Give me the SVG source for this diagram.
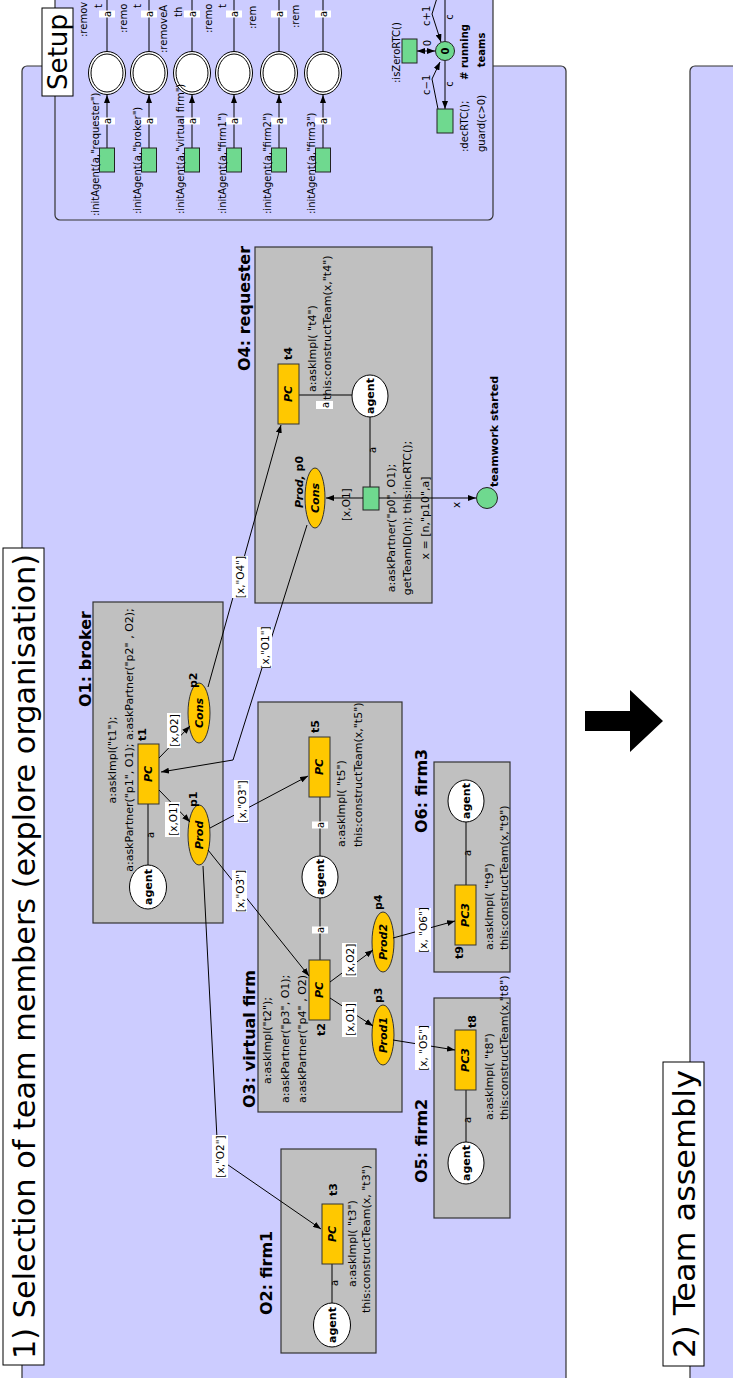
<svg xmlns="http://www.w3.org/2000/svg" width="733" height="1378" viewBox="0 0 733 1378">
<defs>
<marker id="ah" viewBox="0 0 8 6" refX="8" refY="3" markerWidth="8" markerHeight="6" markerUnits="userSpaceOnUse" orient="auto-start-reverse"><path d="M0,0 L8,3 L0,6 z" fill="#000"/></marker>
</defs>
<style>
text{font-family:"DejaVu Sans","Liberation Sans",sans-serif;fill:#000}
.panel{fill:#ccccff;stroke:#333;stroke-width:1.2}
.box{fill:#c0c0c0;stroke:#333;stroke-width:1.2}
.tb{fill:#fff;stroke:#000;stroke-width:1}
.pc{fill:#ffc800;stroke:#333;stroke-width:1}
.gt{fill:#6fd98f;stroke:#222;stroke-width:1}
.pl{fill:#fff;stroke:#000;stroke-width:1}
.ln{stroke:#000;stroke-width:1;fill:none}
.ar{stroke:#000;stroke-width:1;fill:none;marker-end:url(#ah)}
.lb{fill:#fff}
.ins{font-size:11px}
.s{font-size:10px}
.ttl{font-size:16px;font-weight:bold}
.bi{font-size:11px;font-weight:bold;font-style:italic}
.b{font-size:11px;font-weight:bold}
.ab{font-size:10.5px}
.a{font-size:10px}
.c{text-anchor:middle;dominant-baseline:central}
.m{text-anchor:middle}
.big{font-family:"DejaVu Sans Condensed","DejaVu Sans",sans-serif}
</style>

<g id="panels">
<rect class="panel" x="22" y="66" width="544" height="1330" rx="5"/>
<rect class="panel" x="690" y="66" width="60" height="1330" rx="5"/>
<rect class="panel" x="55" y="-20" width="438" height="240" rx="5"/>
<rect class="tb" x="42" y="8" width="31" height="88"/>
<text class="c big" font-size="26" transform="translate(58,52) rotate(-90)" textLength="76" lengthAdjust="spacingAndGlyphs">Setup</text>
<rect class="tb" x="3" y="548" width="41" height="817"/>
<text class="c big" font-size="30" transform="translate(24,956.5) rotate(-90)" textLength="805" lengthAdjust="spacingAndGlyphs">1) Selection of team members (explore organisation)</text>
<rect class="tb" x="663" y="1062" width="41" height="304"/>
<text class="c big" font-size="30" transform="translate(684,1214) rotate(-90)" textLength="288" lengthAdjust="spacingAndGlyphs">2) Team assembly</text>
<polygon points="585,711 630,711 630,690 663,721 630,752 630,731 585,731" fill="#000"/>
</g>

<g id="setup">
<g id="col1">
<line class="ln" x1="107" y1="52" x2="107" y2="-2"/>
<rect class="lb" x="99" y="10.5" width="16" height="7"/><text class="a c" transform="translate(107,14) rotate(-90)">a</text>
<line class="ar" x1="107" y1="148" x2="107" y2="95"/>
<rect class="lb" x="99" y="117.5" width="16" height="7"/><text class="a c" transform="translate(107,121) rotate(-90)">a</text>
<ellipse class="pl" cx="107" cy="73" rx="18.5" ry="21.5"/><ellipse class="pl" cx="107" cy="73" rx="16" ry="19"/>
<rect class="gt" x="99.5" y="148" width="15" height="24"/>
<text class="s" transform="translate(87,37) rotate(-90)">:remov</text>
<text class="s" transform="translate(102,8) rotate(-90)">t</text>
<text class="s" transform="translate(99,216) rotate(-90)">:initAgent(a,"requester")</text>
</g>
<g id="col2">
<line class="ln" x1="149" y1="52" x2="149" y2="-2"/>
<rect class="lb" x="141" y="10.5" width="16" height="7"/><text class="a c" transform="translate(149,14) rotate(-90)">a</text>
<line class="ar" x1="149" y1="148" x2="149" y2="95"/>
<rect class="lb" x="141" y="117.5" width="16" height="7"/><text class="a c" transform="translate(149,121) rotate(-90)">a</text>
<ellipse class="pl" cx="149" cy="73" rx="18.5" ry="21.5"/><ellipse class="pl" cx="149" cy="73" rx="16" ry="19"/>
<rect class="gt" x="141.5" y="148" width="15" height="24"/>
<text class="s" transform="translate(127,33) rotate(-90)">:remo</text>
<text class="s" transform="translate(141,8) rotate(-90)">t</text>
<text class="s" transform="translate(141,214) rotate(-90)">:initAgent(a,"broker")</text>
</g>
<g id="col3">
<line class="ln" x1="192" y1="52" x2="192" y2="-2"/>
<rect class="lb" x="184" y="10.5" width="16" height="7"/><text class="a c" transform="translate(192,14) rotate(-90)">a</text>
<line class="ar" x1="192" y1="148" x2="192" y2="95"/>
<rect class="lb" x="184" y="117.5" width="16" height="7"/><text class="a c" transform="translate(192,121) rotate(-90)">a</text>
<ellipse class="pl" cx="192" cy="73" rx="18.5" ry="21.5"/><ellipse class="pl" cx="192" cy="73" rx="16" ry="19"/>
<rect class="gt" x="184.5" y="148" width="15" height="24"/>
<text class="s" transform="translate(167,53) rotate(-90)">:removeA</text>
<text class="s" transform="translate(182,17) rotate(-90)">th</text>
<text class="s" transform="translate(184,214) rotate(-90)">:initAgent(a,"virtual firm")</text>
</g>
<g id="col4">
<line class="ln" x1="234" y1="52" x2="234" y2="-2"/>
<rect class="lb" x="226" y="10.5" width="16" height="7"/><text class="a c" transform="translate(234,14) rotate(-90)">a</text>
<line class="ar" x1="234" y1="148" x2="234" y2="95"/>
<rect class="lb" x="226" y="117.5" width="16" height="7"/><text class="a c" transform="translate(234,121) rotate(-90)">a</text>
<ellipse class="pl" cx="234" cy="73" rx="18.5" ry="21.5"/><ellipse class="pl" cx="234" cy="73" rx="16" ry="19"/>
<rect class="gt" x="226.5" y="148" width="15" height="24"/>
<text class="s" transform="translate(212,33) rotate(-90)">:remo</text>
<text class="s" transform="translate(226,8) rotate(-90)">t</text>
<text class="s" transform="translate(226,214) rotate(-90)">:initAgent(a,"firm1")</text>
</g>
<g id="col5">
<line class="ln" x1="279" y1="52" x2="279" y2="-2"/>
<rect class="lb" x="271" y="10.5" width="16" height="7"/><text class="a c" transform="translate(279,14) rotate(-90)">a</text>
<line class="ar" x1="279" y1="148" x2="279" y2="95"/>
<rect class="lb" x="271" y="117.5" width="16" height="7"/><text class="a c" transform="translate(279,121) rotate(-90)">a</text>
<ellipse class="pl" cx="279" cy="73" rx="18.5" ry="21.5"/><ellipse class="pl" cx="279" cy="73" rx="16" ry="19"/>
<rect class="gt" x="271.5" y="148" width="15" height="24"/>
<text class="s" transform="translate(256,29) rotate(-90)">:rem</text>
<text class="s" transform="translate(271,214) rotate(-90)">:initAgent(a,"firm2")</text>
</g>
<g id="col6">
<line class="ln" x1="323" y1="52" x2="323" y2="-2"/>
<rect class="lb" x="315" y="10.5" width="16" height="7"/><text class="a c" transform="translate(323,14) rotate(-90)">a</text>
<line class="ar" x1="323" y1="148" x2="323" y2="95"/>
<rect class="lb" x="315" y="117.5" width="16" height="7"/><text class="a c" transform="translate(323,121) rotate(-90)">a</text>
<ellipse class="pl" cx="323" cy="73" rx="18.5" ry="21.5"/><ellipse class="pl" cx="323" cy="73" rx="16" ry="19"/>
<rect class="gt" x="315.5" y="148" width="15" height="24"/>
<text class="s" transform="translate(299,28) rotate(-90)">:rem</text>
<text class="s" transform="translate(315,214) rotate(-90)">:initAgent(a,"firm3")</text>
</g>
<g id="rtc">
<line class="ln" x1="445" y1="41" x2="445" y2="-2"/>
<text class="s c" transform="translate(449,17) rotate(-90)">c</text>
<polyline class="ar" points="437,-2 432,14 441,42"/>
<text class="s" transform="translate(430,26) rotate(-90)">c+1</text>
<line class="ln" x1="417" y1="51" x2="435" y2="51" marker-start="url(#ah)" marker-end="url(#ah)"/>
<text class="s c" transform="translate(427,43) rotate(-90)">0</text>
<rect class="gt" x="402" y="39" width="15" height="24"/>
<text class="s" font-size="11.5" transform="translate(400,83) rotate(-90)">:isZeroRTC()</text>
<line class="ar" x1="445" y1="61" x2="445" y2="109"/>
<text class="s c" transform="translate(449,84) rotate(-90)">c</text>
<polyline class="ar" points="438,109 432,79 440,62"/>
<text class="s" transform="translate(430,95) rotate(-90)">c−1</text>
<circle class="gt" cx="445" cy="51" r="9.5"/>
<text class="s c" font-weight="bold" transform="translate(445,51) rotate(-90)">0</text>
<rect class="gt" x="437" y="109" width="16" height="24"/>
<text class="s" transform="translate(468,152) rotate(-90)">:decRTC();</text>
<text class="s" transform="translate(485,152) rotate(-90)">guard(c&gt;0)</text>
<text class="s m" font-weight="bold" transform="translate(468,52) rotate(-90)"># running</text>
<text class="s m" font-weight="bold" transform="translate(485,50) rotate(-90)">teams</text>
</g>
</g>

<g id="O4">
<rect class="box" x="255" y="247" width="177" height="356"/>
<text class="ttl" transform="translate(250,371) rotate(-90)">O4: requester</text>
<line class="ln" x1="299" y1="395" x2="352" y2="395"/>
<line class="ln" x1="370" y1="417" x2="370" y2="487"/>
<text class="a c" transform="translate(372,450) rotate(-90)">a</text>
<rect class="pc" x="278" y="364" width="21" height="60"/>
<text class="bi c" transform="translate(288.5,394) rotate(-90)">PC</text>
<text class="b" transform="translate(292,360) rotate(-90)">t4</text>
<text class="ins" transform="translate(316,392) rotate(-90)">a:askImpl( "t4")</text>
<text class="ins" transform="translate(331,400) rotate(-90)">this:constructTeam(x,"t4")</text>
<rect class="lb" x="316" y="401" width="17" height="8"/><text class="a c" transform="translate(325,405) rotate(-90)">a</text>
<ellipse class="pl" cx="370" cy="396" rx="18" ry="21"/>
<text class="b c" font-size="10" transform="translate(370,396) rotate(-90)">agent</text>
<rect class="gt" x="363" y="487" width="16" height="23"/>
<ellipse class="pc" cx="315" cy="498" rx="10" ry="30"/>
<text class="bi c" font-size="10" transform="translate(315,498) rotate(-90)">Cons</text>
<text class="b" transform="translate(303,508) rotate(-90)"><tspan font-style="italic">Prod,</tspan> p0</text>
<text class="ab" transform="translate(350,521) rotate(-90)">[x,O1]</text>
<text class="ins m" transform="translate(395,528) rotate(-90)">a:askPartner("p0", O1);</text>
<text class="ins m" transform="translate(411,518) rotate(-90)">getTeamID(n); this:incRTC();</text>
<text class="ins m" transform="translate(429,518) rotate(-90)">x = [n,"p10",a]</text>
<text class="ab c" transform="translate(456,505) rotate(-90)">x</text>
<circle class="gt" cx="487" cy="498" r="10.5"/>
<text class="b" transform="translate(498,487) rotate(-90)">teamwork started</text>
</g>

<g id="O1">
<rect class="box" x="93" y="602" width="130" height="321"/>
<text class="ttl" transform="translate(91,707) rotate(-90)">O1: broker</text>
<line class="ln" x1="148" y1="804" x2="148" y2="865"/>
<text class="a c" transform="translate(150,835) rotate(-90)">a</text>
<rect class="pc" x="138" y="744" width="21" height="60"/>
<text class="bi c" transform="translate(148.5,774) rotate(-90)">PC</text>
<text class="b" transform="translate(146,741) rotate(-90)">t1</text>
<ellipse class="pc" cx="199" cy="713" rx="11" ry="30"/>
<text class="bi c" font-size="10" transform="translate(199,713) rotate(-90)">Cons</text>
<text class="b" transform="translate(197,688) rotate(-90)">p2</text>
<ellipse class="pc" cx="199" cy="835" rx="11" ry="30"/>
<text class="bi c" font-size="10" transform="translate(199,835) rotate(-90)">Prod</text>
<text class="b" transform="translate(197,807) rotate(-90)">p1</text>
<ellipse class="pl" cx="148" cy="887" rx="18.5" ry="22"/>
<text class="b c" font-size="10" transform="translate(148,887) rotate(-90)">agent</text>
<text class="ins m" transform="translate(116,760) rotate(-90)">a:askImpl("t1");</text>
<text class="ins m" transform="translate(133,740) rotate(-90)">a:askPartner("p1", O1); a:askPartner("p2" , O2);</text>
</g>

<g id="O3">
<rect class="box" x="258" y="702" width="144" height="410"/>
<text class="ttl" transform="translate(255,1108) rotate(-90)">O3: virtual firm</text>
<line class="ln" x1="320" y1="797" x2="320" y2="856"/>
<rect class="lb" x="312" y="821.5" width="16" height="7"/><text class="a c" transform="translate(320,825) rotate(-90)">a</text>
<line class="ln" x1="320" y1="898" x2="320" y2="960"/>
<rect class="lb" x="312" y="926.5" width="16" height="7"/><text class="a c" transform="translate(320,930) rotate(-90)">a</text>
<rect class="pc" x="309" y="737" width="21" height="60"/>
<text class="bi c" transform="translate(319.5,767) rotate(-90)">PC</text>
<text class="b" transform="translate(319,733) rotate(-90)">t5</text>
<text class="ins" transform="translate(345,847) rotate(-90)">a:askImpl( "t5")</text>
<text class="ins" transform="translate(362,847) rotate(-90)">this:constructTeam(x,"t5")</text>
<ellipse class="pl" cx="320" cy="877" rx="18" ry="21"/>
<text class="b c" font-size="10" transform="translate(320,877) rotate(-90)">agent</text>
<rect class="pc" x="309" y="960" width="21" height="60"/>
<text class="bi c" transform="translate(319.5,990) rotate(-90)">PC</text>
<text class="b" transform="translate(325,1036) rotate(-90)">t2</text>
<text class="ins" transform="translate(271,1084) rotate(-90)">a:askImpl("t2");</text>
<text class="ins" transform="translate(289,1103) rotate(-90)">a:askPartner("p3", O1);</text>
<text class="ins" transform="translate(306,1103) rotate(-90)">a:askPartner("p4" , O2)</text>
<ellipse class="pc" cx="383" cy="1035" rx="11" ry="30"/>
<text class="bi c" font-size="10" transform="translate(383,1035) rotate(-90)">Prod1</text>
<text class="b" transform="translate(382,1003) rotate(-90)">p3</text>
<ellipse class="pc" cx="383" cy="942" rx="11" ry="30"/>
<text class="bi c" font-size="10" transform="translate(383,942) rotate(-90)">Prod2</text>
<text class="b" transform="translate(382,910) rotate(-90)">p4</text>
</g>

<g id="O6">
<rect class="box" x="434" y="762" width="76" height="210"/>
<text class="ttl" transform="translate(427,833) rotate(-90)">O6: firm3</text>
<line class="ln" x1="466" y1="822" x2="466" y2="885"/>
<text class="a c" transform="translate(467,853) rotate(-90)">a</text>
<ellipse class="pl" cx="466" cy="801" rx="18" ry="21"/>
<text class="b c" font-size="10" transform="translate(466,801) rotate(-90)">agent</text>
<rect class="pc" x="455" y="885" width="21" height="60"/>
<text class="bi c" transform="translate(465.5,915) rotate(-90)">PC3</text>
<text class="b" transform="translate(463,959) rotate(-90)">t9</text>
<text class="ins" transform="translate(493,950) rotate(-90)">a:askImpl( "t9")</text>
<text class="ins" transform="translate(508,950) rotate(-90)">this:constructTeam(x,"t9")</text>
</g>

<g id="O5">
<rect class="box" x="434" y="998" width="76" height="220"/>
<text class="ttl" transform="translate(427,1183) rotate(-90)">O5: firm2</text>
<line class="ln" x1="466" y1="1090" x2="466" y2="1142"/>
<text class="a c" transform="translate(467,1120) rotate(-90)">a</text>
<rect class="pc" x="455" y="1030" width="21" height="60"/>
<text class="bi c" transform="translate(465.5,1060) rotate(-90)">PC3</text>
<text class="b" transform="translate(476,1028) rotate(-90)">t8</text>
<ellipse class="pl" cx="466" cy="1163" rx="18" ry="21"/>
<text class="b c" font-size="10" transform="translate(466,1163) rotate(-90)">agent</text>
<text class="ins" transform="translate(493,1120) rotate(-90)">a:askImpl( "t8")</text>
<text class="ins" transform="translate(508,1120) rotate(-90)">this:constructTeam(x,"t8")</text>
</g>

<g id="O2">
<rect class="box" x="281" y="1149" width="95" height="204"/>
<text class="ttl" transform="translate(272,1315) rotate(-90)">O2: firm1</text>
<line class="ln" x1="332" y1="1264" x2="332" y2="1303"/>
<text class="a c" transform="translate(334,1283) rotate(-90)">a</text>
<rect class="pc" x="322" y="1204" width="21" height="60"/>
<text class="bi c" transform="translate(332.5,1234) rotate(-90)">PC</text>
<text class="b" transform="translate(337,1196) rotate(-90)">t3</text>
<ellipse class="pl" cx="332" cy="1325" rx="18.5" ry="22"/>
<text class="b c" font-size="10" transform="translate(332,1325) rotate(-90)">agent</text>
<text class="ins" transform="translate(356,1287) rotate(-90)">a:askImpl( "t3")</text>
<text class="ins" transform="translate(370,1313) rotate(-90)">this:constructTeam(x, "t3")</text>
</g>

<g id="connectors">
<line class="ar" x1="363" y1="498" x2="326" y2="498"/>
<line class="ar" x1="379" y1="498" x2="476" y2="498"/>
<line class="ar" x1="208" y1="687" x2="281" y2="425"/>
<rect class="lb" x="232" y="556" width="16" height="42"/><text class="ab c" transform="translate(240,577) rotate(-90)">[x,"O4"]</text>
<polyline class="ar" points="307,525 233,760 161,772"/>
<rect class="lb" x="257" y="627" width="15" height="41"/><text class="ab c" transform="translate(264.5,647.5) rotate(-90)">[x,"O1"]</text>
<line class="ar" x1="159" y1="758" x2="190" y2="726"/>
<rect class="lb" x="167" y="713" width="14" height="35"/><text class="ab c" transform="translate(174,730.5) rotate(-90)">[x,O2]</text>
<line class="ar" x1="159" y1="790" x2="190" y2="822"/>
<rect class="lb" x="165" y="802" width="15" height="35"/><text class="ab c" transform="translate(172.5,819.5) rotate(-90)">[x,O1]</text>
<line class="ar" x1="210" y1="828" x2="308" y2="776"/>
<rect class="lb" x="234" y="780" width="15" height="43"/><text class="ab c" transform="translate(241.5,801.5) rotate(-90)">[x,"O3"]</text>
<line class="ar" x1="208" y1="850" x2="309" y2="976"/>
<rect class="lb" x="232" y="870" width="15" height="42"/><text class="ab c" transform="translate(239.5,891) rotate(-90)">[x,"O3"]</text>
<polyline class="ar" points="203,866 218,1158 321,1229"/>
<rect class="lb" x="212" y="1135" width="16" height="43"/><text class="ab c" transform="translate(220,1156.5) rotate(-90)">[x,"O2"]</text>
<line class="ar" x1="330" y1="998" x2="373" y2="1026"/>
<rect class="lb" x="342" y="1002" width="15" height="35"/><text class="ab c" transform="translate(349.5,1019.5) rotate(-90)">[x,O1]</text>
<line class="ar" x1="330" y1="982" x2="373" y2="950"/>
<rect class="lb" x="342" y="943" width="15" height="34"/><text class="ab c" transform="translate(349.5,960) rotate(-90)">[x,O2]</text>
<line class="ar" x1="393" y1="938" x2="455" y2="921"/>
<rect class="lb" x="415" y="908" width="16" height="44"/><text class="ab c" transform="translate(423,930) rotate(-90)">[x, "O6"]</text>
<line class="ar" x1="393" y1="1040" x2="455" y2="1050"/>
<rect class="lb" x="415" y="1026" width="16" height="44"/><text class="ab c" transform="translate(423,1048) rotate(-90)">[x, "O5"]</text>
</g>
</svg>
